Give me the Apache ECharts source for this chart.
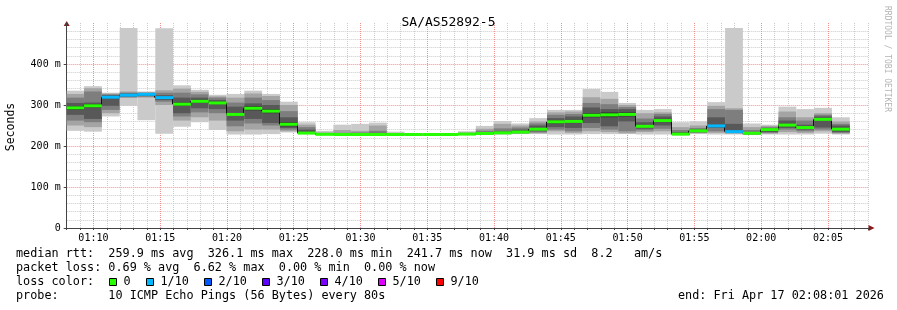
<!DOCTYPE html>
<html><head><meta charset="utf-8">
<script src="https://cdn.jsdelivr.net/npm/echarts@6/dist/echarts.min.js"></script>
<style>html,body{margin:0;padding:0;background:#fff}#c{width:897px;height:310px}</style>
</head><body><div id="c"></div>
<script>
// ---- data ----
const title = 'SA/AS52892-5';
const barStart = ['01:07:58','01:09:18','01:10:38','01:11:58','01:13:18','01:14:38','01:15:58','01:17:18','01:18:38','01:19:58',
  '01:21:18','01:22:38','01:23:58','01:25:18','01:26:38','01:27:58','01:29:18','01:30:38','01:31:58','01:33:18',
  '01:34:38','01:35:58','01:37:18','01:38:38','01:39:58','01:41:18','01:42:38','01:43:58','01:45:18','01:46:38',
  '01:47:58','01:49:18','01:50:38','01:51:58','01:53:18','01:54:38','01:55:58','01:57:18','01:58:38','01:59:58',
  '02:01:18','02:02:38','02:03:58','02:05:18'];
const stepSeconds = 80;
// sorted ping rtts (ms) per step
const pings = [
  [237,250,262,276,288,297,305,318,327,335],
  [235,246,258,266,294,302,306,333,341,346],
  [272,280,288,298,316,322,324,326,328,330],
  [298,317,319,320,322,326,328,330,333,488],
  [263,318,320,322,324,328,329,330,331,333],
  [230,300,308,312,316,320,324,330,336,487],
  [247,262,272,280,298,306,318,330,340,348],
  [258,270,282,292,305,313,318,326,332,337],
  [239,262,280,290,302,308,312,318,321,325],
  [228,236,248,262,274,280,296,306,318,327],
  [228,240,255,266,287,297,304,318,328,335],
  [229,240,250,256,280,290,300,312,322,327],
  [233,236,240,244,248,258,270,285,300,308],
  [229,229.5,230,230.5,231,232,240,246,252,258],
  [227,227.5,228,228,228,229,229.5,230,233,237],
  [227,227.5,228,228,228,229,230,232,239,252],
  [227,227.5,228,228,228,229,231,233,237,254],
  [227,227.5,228,228,228,229,232,237,250,257],
  [227,227,227.5,228,228,228.5,229,229.5,230,235],
  [227,227,227,227.5,227.5,228,228,228,228.5,229],
  [227,227,227,227.5,227.5,228,228,228,228.5,229],
  [227,227,227,227.5,227.5,228,228,228,228.5,229],
  [227.5,228,228,228.5,229,229.5,230,231,233,236],
  [228,228.5,229,229.5,230,231,233,237,242,249],
  [228,229,230,230.5,231,233,236,243,254,261],
  [229,230,231,232,233,235,240,245,250,255],
  [229,231,233,236,239,243,250,255,260,268],
  [228,236,240,246,255,262,268,276,282,288],
  [228,232,236,244,256,264,272,278,284,288],
  [229,236,244,256,270,280,294,305,319,339],
  [229,234,240,248,270,282,290,302,315,332],
  [229,231,236,260,272,282,290,295,300,305],
  [228,234,238,242,245,251,258,267,280,288],
  [228,236,242,250,258,266,272,278,282,290],
  [226,227,227.5,228,228.5,230,234,239,246,258],
  [229,231,232,234,236,238,241,244,250,260],
  [228,232,236,244,247,251,270,290,298,307],
  [228,230,232,233,234,237,254,288,292,488],
  [227,227.5,228,229,230,232,234,239,246,255],
  [228,230,232,234,236,241,243,246,249,252],
  [228,234,240,244,248,254,262,270,284,296],
  [228,232,236,240,243,247,252,262,270,290],
  [230,236,240,245,262,268,272,276,280,293],
  [228,230,232,234,238,244,250,254,260,270]
];
const median = [293,298,319,324,326,318,302,309,305,277,292,285,253,231.5,228.5,228,228,228,228,228,
  228,228,229,230.5,232,234,241,259,260,275,276,277,248,262,229,237,249,235,231,240,251,245,265,241];
const lossTenths = [0,0,1,1,1,1,0,0,0,0,0,0,0,0,0,0,0,0,0,0,0,0,0,0,0,0,0,0,0,0,0,0,0,0,0,0,1,1,0,0,0,0,0,0];
const lossLegend = [['0',0],['1/10',1],['2/10',2],['3/10',3],['4/10',4],['5/10',5],['9/10',9]];
const legendLines = [
  'median rtt:  259.9 ms avg  326.1 ms max  228.0 ms min  241.7 ms now  31.9 ms sd  8.2   am/s',
  'packet loss: 0.69 % avg  6.62 % max  0.00 % min  0.00 % now',
  'loss color:',
  'probe:       10 ICMP Echo Pings (56 Bytes) every 80s'
];
const endText = 'end: Fri Apr 17 02:08:01 2026';
const yLabelText = 'Seconds';
const watermark = 'RRDTOOL / TOBI OETIKER';

// ---- styles ----
const lossColors = {0:'#26ff00',1:'#00b8ff',2:'#0059ff',3:'#5e00ff',4:'#7e00ff',5:'#dd00ff',9:'#ff0000'};
const smokeColors = ['#cacaca','#a4a4a4','#7e7e7e','#585858','#323232'];
const MONO = '"DejaVu Sans Mono", monospace';
const minorGrid = '#cbcbcb', majorGrid = '#f29090';

function toMin(s){ const p = s.split(':').map(Number); return (p[0]-1)*60 + p[1] + p[2]/60; }
const barData = barStart.map(s => { const a = toMin(s); return [a, a + stepSeconds/60]; });

const X_MIN = 8, X_MAX = 68;
const xTicks = []; for (let v = X_MIN; v <= X_MAX; v++) xTicks.push(v);
const xGridColors = xTicks.map(v => v === X_MIN ? 'rgba(0,0,0,0)' : (v % 5 === 0 ? majorGrid : minorGrid));
function fmtTime(v){ const h = 1 + Math.floor(v/60), m = v % 60; return String(h).padStart(2,'0') + ':' + String(m).padStart(2,'0'); }

const chart = echarts.init(document.getElementById('c'), null, {renderer:'canvas'});

function clampX(x, cs){ return Math.max(cs.x, Math.min(cs.x + cs.width, x)); }

const option = {
  animation: false,
  backgroundColor: '#ffffff',
  title: { text: title, left: 'center', top: 11, textStyle: { fontFamily: MONO, fontSize: 13, fontWeight: 'normal', color: '#000' } },
  grid: { left: 66.7, right: 29, top: 23, bottom: 82 },
  xAxis: {
    type: 'value', min: X_MIN, max: X_MAX, interval: 1,
    axisLine: { show: true, lineStyle: { color: '#444', width: 1 } },
    axisTick: { show: true, length: 2, lineStyle: { color: '#444' } },
    axisLabel: { interval: 0, margin: 5, fontFamily: MONO, fontSize: 10, color: '#000',
      formatter: v => (v % 5 === 0 && v > X_MIN && v < X_MAX) ? fmtTime(v) : '' },
    splitLine: { show: true, lineStyle: { color: xGridColors, type: [1,1], width: 1 } }
  },
  yAxis: {
    type: 'value', min: 0, max: 500, interval: 100,
    axisLine: { show: true, lineStyle: { color: '#444', width: 1 } },
    axisTick: { show: true, length: 3, lineStyle: { color: '#444' } },
    axisLabel: { margin: 6, fontFamily: MONO, fontSize: 10, color: '#000', showMaxLabel: false,
      formatter: v => v === 0 ? '0' : (v >= 500 ? '' : v + ' m') },
    splitLine: { show: true, showMinLine: false, showMaxLine: false, lineStyle: { color: majorGrid, type: [1,1], width: 1 } },
    minorTick: { show: false, splitNumber: 5 },
    minorSplitLine: { show: true, lineStyle: { color: minorGrid, type: [1,1], width: 1 } }
  },
  series: [
    { type: 'custom', name: 'smoke', data: barData, z: 2,
      renderItem: (params, api) => {
        const i = params.dataIndex, cs = params.coordSys, p = pings[i];
        const x0 = clampX(api.coord([api.value(0), 0])[0], cs);
        const x1 = clampX(api.coord([api.value(1), 0])[0], cs);
        const children = [];
        for (let b = 0; b < 5; b++) {
          const lo = api.coord([0, p[b]])[1], hi = api.coord([0, p[9-b]])[1];
          children.push({ type: 'rect', shape: { x: x0, y: hi, width: x1 - x0, height: Math.max(lo - hi, 0.6) }, style: { fill: smokeColors[b] } });
        }
        return { type: 'group', children };
      }
    },
    { type: 'custom', name: 'median-link', data: barData, z: 3,
      renderItem: (params, api) => {
        const i = params.dataIndex; if (i === 0) return null;
        const cs = params.coordSys;
        const x0 = Math.round(clampX(api.coord([api.value(0), 0])[0], cs)) - 0.5;
        const y0 = api.coord([0, median[i-1]])[1], y1 = api.coord([0, median[i]])[1];
        return { type: 'line', shape: { x1: x0, y1: y0, x2: x0, y2: y1 }, style: { stroke: '#111', lineWidth: 1 } };
      }
    },
    { type: 'custom', name: 'median', data: barData, z: 4,
      renderItem: (params, api) => {
        const i = params.dataIndex, cs = params.coordSys;
        const x0 = clampX(api.coord([api.value(0), 0])[0], cs);
        const x1 = clampX(api.coord([api.value(1), 0])[0], cs);
        const y = api.coord([0, median[i]])[1];
        return { type: 'rect', shape: { x: x0, y: y - 1.5, width: x1 - x0, height: 3 }, style: { fill: lossColors[lossTenths[i]] } };
      }
    }
  ]
};
chart.setOption(option);

// decorations & legend
const pRight = chart.convertToPixel({gridIndex:0}, [X_MAX, 0]);
const pTop = chart.convertToPixel({gridIndex:0}, [X_MIN, 500]);
const g = [];
g.push({ type: 'polygon', shape: { points: [[pRight[0]+0.5, pRight[1]-3],[pRight[0]+6.5, pRight[1]],[pRight[0]+0.5, pRight[1]+3]] }, style: { fill: '#8b1a1a' } });
g.push({ type: 'polygon', shape: { points: [[pTop[0]-3, pTop[1]+3],[pTop[0], pTop[1]-2],[pTop[0]+3, pTop[1]+3]] }, style: { fill: '#8b1a1a' } });
g.push({ type: 'text', x: 11, y: 127, rotation: Math.PI/2, style: { text: yLabelText, font: '11.5px ' + MONO, fill: '#000', align: 'center', verticalAlign: 'middle' } });
g.push({ type: 'text', x: 887, y: 59, rotation: -Math.PI/2, style: { text: watermark, font: '8px ' + MONO, fill: '#b4b4b4', align: 'center', verticalAlign: 'middle' } });
const rowY = [254, 268, 282, 296];
legendLines.forEach((t, k) => g.push({ type: 'text', x: 16, y: rowY[k], style: { text: t, font: '11.8px ' + MONO, fill: '#000', align: 'left', verticalAlign: 'middle' } }));
g.push({ type: 'text', x: 678, y: rowY[3], style: { text: endText, font: '11.8px ' + MONO, fill: '#000', align: 'left', verticalAlign: 'middle' } });
const boxX = [109, 146, 204, 262, 320, 378, 436];
lossLegend.forEach((e, k) => {
  g.push({ type: 'rect', shape: { x: boxX[k] + 0.5, y: 278.5, width: 7, height: 7 }, style: { fill: lossColors[e[1]], stroke: '#000', lineWidth: 1 } });
  g.push({ type: 'text', x: boxX[k] + 14.5, y: rowY[2], style: { text: e[0], font: '11.8px ' + MONO, fill: '#000', align: 'left', verticalAlign: 'middle' } });
});
chart.setOption({ graphic: { elements: g } });
</script>
</body></html>
